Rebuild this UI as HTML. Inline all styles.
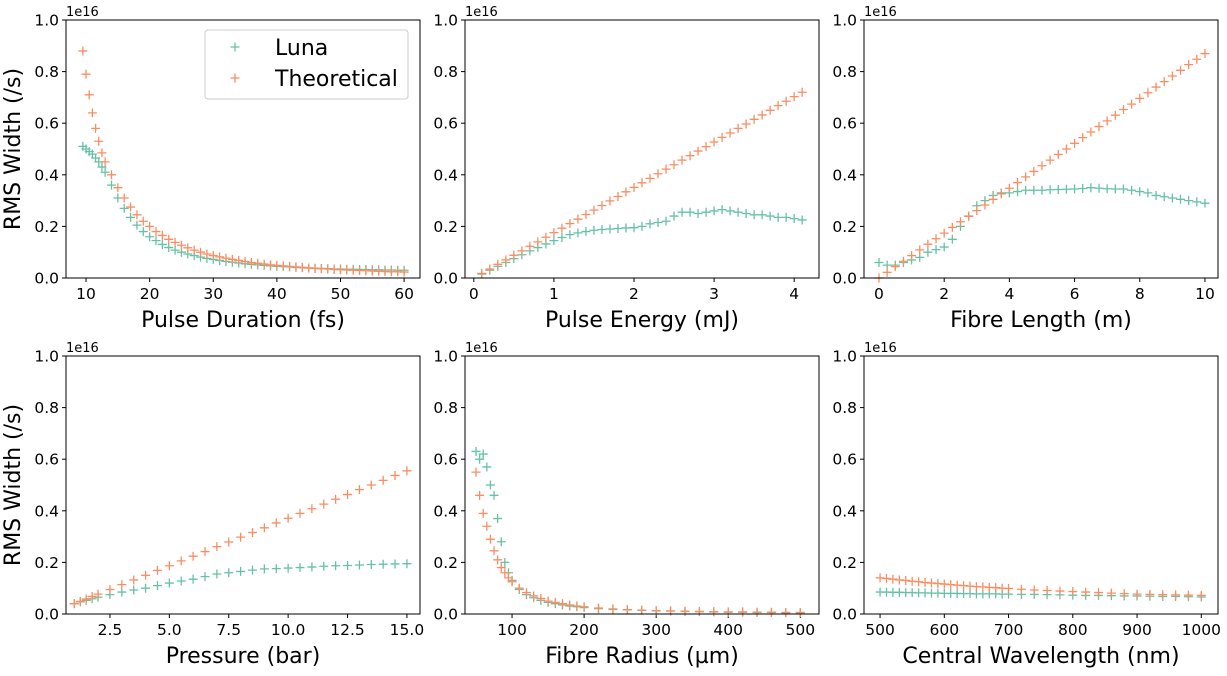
<!DOCTYPE html>
<html><head><meta charset="utf-8"><style>
body{margin:0;background:#fff;}
svg text{font-family:"DejaVu Sans","Liberation Sans",sans-serif;fill:#000;}
</style></head><body>
<svg id="fig" width="1227" height="671" xmlns="http://www.w3.org/2000/svg"></svg>
<script>
// Panel 1: Pulse Duration
const durX=[9.5,10,10.5,11,11.5,12,12.5,13,14,15,16,17,18,19,20,21,22,23,24,25,26,27,28,29,30,31,32,33,34,35,36,37,38,39,40,41,42,43,44,45,46,47,48,49,50,51,52,53,54,55,56,57,58,59,60];
const durTheo=[0.88,0.79,0.71,0.64,0.58,0.53,0.485,0.45,0.40,0.35,0.31,0.275,0.245,0.22,0.20,0.18,0.165,0.15,0.138,0.127,0.117,0.108,0.100,0.093,0.087,0.082,0.077,0.072,0.068,0.064,0.060,0.057,0.054,0.051,0.049,0.047,0.045,0.043,0.041,0.039,0.037,0.036,0.035,0.033,0.032,0.031,0.030,0.029,0.028,0.027,0.026,0.025,0.024,0.024,0.023];
const durLuna=[0.51,0.50,0.49,0.48,0.465,0.45,0.43,0.41,0.36,0.31,0.27,0.235,0.205,0.18,0.16,0.145,0.13,0.118,0.108,0.10,0.093,0.087,0.081,0.076,0.072,0.068,0.064,0.061,0.058,0.055,0.053,0.051,0.049,0.047,0.045,0.044,0.043,0.041,0.040,0.039,0.038,0.037,0.036,0.035,0.035,0.034,0.034,0.033,0.033,0.032,0.032,0.031,0.031,0.030,0.030];
// Panel 2: Pulse Energy
const enX=[0.1,0.2,0.3,0.4,0.5,0.6,0.7,0.8,0.9,1.0,1.1,1.2,1.3,1.4,1.5,1.6,1.7,1.8,1.9,2.0,2.1,2.2,2.3,2.4,2.5,2.6,2.7,2.8,2.9,3.0,3.1,3.2,3.3,3.4,3.5,3.6,3.7,3.8,3.9,4.0,4.1];
const enTheo=[0.018,0.035,0.053,0.070,0.088,0.105,0.123,0.140,0.158,0.176,0.193,0.211,0.228,0.246,0.263,0.281,0.299,0.316,0.334,0.351,0.369,0.386,0.404,0.422,0.439,0.457,0.474,0.492,0.509,0.527,0.545,0.562,0.580,0.597,0.615,0.632,0.650,0.668,0.685,0.703,0.720];
const enLuna=[0.015,0.03,0.045,0.06,0.075,0.09,0.105,0.118,0.132,0.145,0.157,0.168,0.175,0.18,0.185,0.188,0.19,0.192,0.194,0.195,0.20,0.21,0.215,0.22,0.24,0.255,0.255,0.25,0.255,0.26,0.265,0.26,0.255,0.25,0.245,0.245,0.24,0.235,0.235,0.23,0.225];
// Panel 3: Fibre Length
const lenX=[0,0.25,0.5,0.75,1,1.25,1.5,1.75,2,2.25,2.5,2.75,3,3.25,3.5,3.75,4,4.25,4.5,4.75,5,5.25,5.5,5.75,6,6.25,6.5,6.75,7,7.25,7.5,7.75,8,8.25,8.5,8.75,9,9.25,9.5,9.75,10];
const lenTheo=[0.0,0.022,0.044,0.065,0.087,0.109,0.131,0.152,0.174,0.196,0.218,0.239,0.261,0.283,0.305,0.326,0.348,0.370,0.392,0.413,0.435,0.457,0.479,0.500,0.522,0.544,0.566,0.587,0.609,0.631,0.653,0.674,0.696,0.718,0.740,0.761,0.783,0.805,0.827,0.848,0.870];
const lenLuna=[0.06,0.05,0.05,0.06,0.07,0.08,0.10,0.11,0.12,0.15,0.20,0.24,0.28,0.30,0.32,0.33,0.33,0.335,0.34,0.34,0.34,0.342,0.343,0.344,0.345,0.347,0.35,0.348,0.346,0.345,0.345,0.34,0.335,0.33,0.32,0.315,0.31,0.305,0.30,0.295,0.29];
// Panel 4: Pressure
const prX=[1,1.25,1.5,1.75,2,2.5,3,3.5,4,4.5,5,5.5,6,6.5,7,7.5,8,8.5,9,9.5,10,10.5,11,11.5,12,12.5,13,13.5,14,14.5,15];
const prTheo=[0.040,0.049,0.058,0.068,0.077,0.095,0.114,0.132,0.150,0.169,0.187,0.206,0.224,0.242,0.261,0.279,0.298,0.316,0.334,0.353,0.371,0.390,0.408,0.426,0.445,0.463,0.482,0.500,0.518,0.537,0.555];
const prLuna=[0.040,0.047,0.053,0.059,0.065,0.075,0.085,0.093,0.100,0.110,0.120,0.128,0.135,0.145,0.155,0.160,0.165,0.170,0.175,0.176,0.178,0.180,0.182,0.185,0.187,0.188,0.190,0.192,0.193,0.194,0.195];
// Panel 5: Fibre Radius
const radX=[50,55,60,65,70,75,80,85,90,95,100,110,120,130,140,150,160,170,180,190,200,220,240,260,280,300,320,340,360,380,400,420,440,460,480,500];
const radTheo=[0.55,0.46,0.39,0.34,0.29,0.245,0.21,0.18,0.16,0.14,0.125,0.10,0.083,0.07,0.06,0.05,0.045,0.04,0.035,0.031,0.028,0.023,0.02,0.017,0.015,0.013,0.012,0.011,0.01,0.009,0.008,0.008,0.007,0.007,0.006,0.006];
const radLuna=[0.63,0.60,0.62,0.57,0.50,0.46,0.37,0.28,0.20,0.16,0.13,0.095,0.075,0.063,0.053,0.045,0.04,0.035,0.031,0.028,0.025,0.021,0.018,0.016,0.014,0.012,0.011,0.01,0.009,0.008,0.007,0.007,0.006,0.006,0.005,0.005];
// Panel 6: Central Wavelength
const wlX=[500,510,520,530,540,550,560,570,580,590,600,610,620,630,640,650,660,670,680,690,700,720,740,760,780,800,820,840,860,880,900,920,940,960,980,1000];
const wlTheo=[0.14,0.138,0.135,0.132,0.13,0.127,0.125,0.122,0.12,0.118,0.116,0.114,0.112,0.11,0.108,0.106,0.105,0.103,0.102,0.1,0.099,0.096,0.093,0.091,0.089,0.087,0.085,0.083,0.081,0.079,0.077,0.076,0.075,0.074,0.073,0.072];
const wlLuna=[0.085,0.085,0.084,0.084,0.083,0.083,0.082,0.082,0.081,0.081,0.08,0.08,0.08,0.079,0.079,0.078,0.078,0.078,0.078,0.077,0.077,0.076,0.076,0.075,0.074,0.073,0.072,0.072,0.071,0.07,0.07,0.069,0.068,0.068,0.067,0.066];
const yTicks=[0,0.2,0.4,0.6,0.8,1.0];

const NS="http://www.w3.org/2000/svg";
const svg=document.getElementById('fig');
function mk(tag,attrs,parent){const e=document.createElementNS(NS,tag);for(const k in attrs)e.setAttribute(k,attrs[k]);(parent||svg).appendChild(e);return e;}
const GREEN="#66c2a5",ORANGE="#fc8d62";
const panels=[
 {name:'pulse-duration',x0:66,y0:20,xl:[6.85,62.5],xt:[10,20,30,40,50,60],lab:'Pulse Duration (fs)',xs:durX,luna:durLuna,theo:durTheo,fmt:v=>String(v),ylab:true},
 {name:'pulse-energy',x0:465,y0:20,xl:[-0.11,4.31],xt:[0,1,2,3,4],lab:'Pulse Energy (mJ)',xs:enX,luna:enLuna,theo:enTheo,fmt:v=>String(v)},
 {name:'fibre-length',x0:864,y0:20,xl:[-0.46,10.4],xt:[0,2,4,6,8,10],lab:'Fibre Length (m)',xs:lenX,luna:lenLuna,theo:lenTheo,fmt:v=>String(v)},
 {name:'pressure',x0:66,y0:356,xl:[0.65,15.55],xt:[2.5,5,7.5,10,12.5,15],lab:'Pressure (bar)',xs:prX,luna:prLuna,theo:prTheo,fmt:v=>v.toFixed(1),ylab:true},
 {name:'fibre-radius',x0:465,y0:356,xl:[34.7,526],xt:[100,200,300,400,500],lab:'Fibre Radius (\u00b5m)',xs:radX,luna:radLuna,theo:radTheo,fmt:v=>String(v)},
 {name:'central-wavelength',x0:864,y0:356,xl:[475,1026],xt:[500,600,700,800,900,1000],lab:'Central Wavelength (nm)',xs:wlX,luna:wlLuna,theo:wlTheo,fmt:v=>String(v)}
];
const W=354,H=258;
function plus(g,cx,cy,col){const p=mk('path',{d:`M${cx-4.5},${cy}H${cx+4.5}M${cx},${cy-4.5}V${cy+4.5}`,stroke:col,'stroke-width':1.3,fill:'none'},g);

}
panels.forEach(P=>{
 const g=mk('g',{});
 
 
 const sx=v=>P.x0+(v-P.xl[0])/(P.xl[1]-P.xl[0])*W;
 const sy=v=>P.y0+H-v*H;
 yTicks.forEach(t=>{const y=sy(t);mk('line',{x1:P.x0-4,x2:P.x0,y1:y,y2:y,stroke:'#000','stroke-width':1},g);
  const tx=mk('text',{x:P.x0-7,y:y+5.5,'text-anchor':'end','font-size':15.5},g);tx.textContent=t.toFixed(1);
  });
 P.xt.forEach(t=>{const x=sx(t);mk('line',{x1:x,x2:x,y1:P.y0+H,y2:P.y0+H+4,stroke:'#000','stroke-width':1},g);
  const tx=mk('text',{x:x,y:P.y0+H+21,'text-anchor':'middle','font-size':15.5},g);tx.textContent=P.fmt(t);
  });
 const off=mk('text',{x:P.x0,y:P.y0-4,'font-size':13},g);off.textContent='1e16';
 
 const xl=mk('text',{x:P.x0+W/2,y:P.y0+H+49,'text-anchor':'middle','font-size':22},g);xl.textContent=P.lab;
 
 if(P.ylab){const yl=mk('text',{x:0,y:0,'text-anchor':'middle','font-size':22,transform:`translate(20,${P.y0+H/2}) rotate(-90)`},g);yl.textContent='RMS Width (/s)';
  }
 P.xs.forEach((x,i)=>plus(g,sx(x),sy(P.luna[i]),GREEN));
 P.xs.forEach((x,i)=>plus(g,sx(x),sy(P.theo[i]),ORANGE));
 mk('rect',{x:P.x0,y:P.y0,width:W,height:H,fill:'none',stroke:'#000','stroke-width':1},g);
});
// legend
const lg=mk('g',{});


mk('rect',{x:205,y:30,width:203,height:69,rx:3,fill:'#fff','fill-opacity':0.8,stroke:'#ccc','stroke-width':1},lg);
plus(lg,235,47,GREEN);plus(lg,235,78,ORANGE);
const t1=mk('text',{x:275,y:55,'font-size':22},lg);t1.textContent='Luna';

const t2=mk('text',{x:275,y:86,'font-size':22},lg);t2.textContent='Theoretical';

</script>
</body></html>
